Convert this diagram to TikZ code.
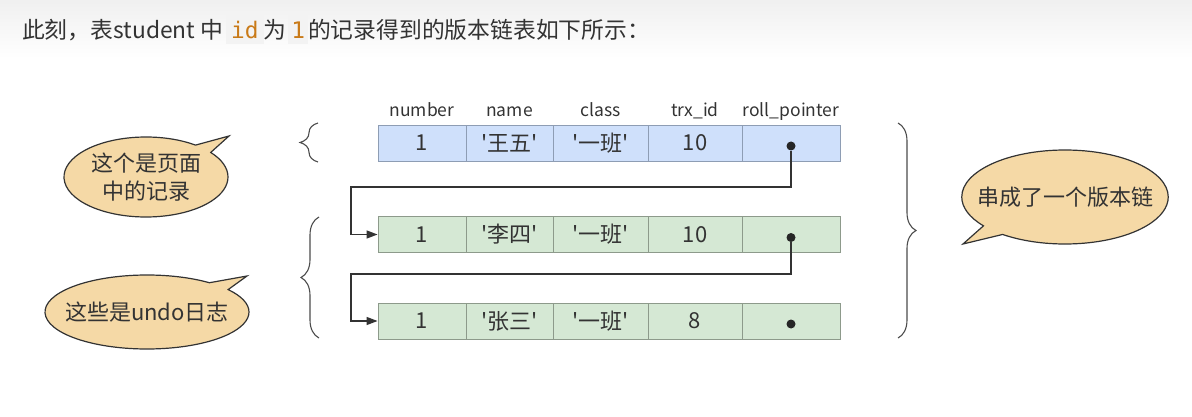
\documentclass[tikz,border=0pt]{standalone}
\usepackage{fontspec}
\usepackage{xcolor}
\usetikzlibrary{arrows.meta, positioning, shapes.callouts, decorations.pathreplacing}

\newfontfamily\cjk{Noto Sans CJK SC}
\newfontfamily\codefont{DejaVu Sans Mono}

\definecolor{txtgray}{HTML}{333333}
\definecolor{rowblue}{HTML}{CFE0FB}
\definecolor{bluebrd}{HTML}{8E9DB4}
\definecolor{rowgreen}{HTML}{D5E8D4}
\definecolor{greenbrd}{HTML}{8D9A8B}
\definecolor{notefill}{HTML}{F5D9A6}
\definecolor{codebg}{HTML}{F3F3F3}
\definecolor{codeorange}{HTML}{C97A18}

\newcommand{\inlinecode}[2]{{\setlength{\fboxsep}{0pt}\colorbox{codebg}{\rule[-5pt]{0pt}{33pt}\hspace{#1}{\codefont\color{codeorange}#2}\hspace{#1}}}}

\begin{document}
\begin{tikzpicture}[
        x=1pt, y=-1pt,
        every node/.style={font=\cjk, text=txtgray},
        cell/.style={rectangle, draw, line width=0.9pt, minimum height=36pt, inner sep=0pt, font=\cjk\fontsize{22}{26}\selectfont},
        hdr/.style={font=\cjk\fontsize{17.5}{20}\selectfont},
        note/.style={ellipse callout, draw=txtgray, line width=1.2pt, fill=notefill, align=center, inner sep=0pt, font=\cjk\fontsize{22}{28}\selectfont},
        dot/.style={circle, fill=black!85, inner sep=0pt, minimum size=9pt},
        link/.style={draw=black!80, line width=1.4pt, -{Triangle[length=11pt, width=8pt]}},
        curly/.style={decorate, decoration={brace, amplitude=18pt}, draw=black!70, line width=1.1pt}
    ]
        \useasboundingbox (0,0) rectangle (1192,417);
        \fill[top color=gray!12, bottom color=white, draw=none] (0,0) rectangle (1192,58);

        % title line
        \node[anchor=base west, inner sep=0pt, font=\cjk\fontsize{22.8}{27}\selectfont] (title) at (22,39)
            {此刻，表student 中\hspace{3pt}\inlinecode{5pt}{id}为\hspace{2pt}\inlinecode{3pt}{1}的记录得到的版本链表如下所示：};

        % the three versions of the record
        \foreach \r/\yc/\clr/\brd/\nm/\tx in {1/143/rowblue/bluebrd/'王五'/10, 2/234.5/rowgreen/greenbrd/'李四'/10, 3/321/rowgreen/greenbrd/'张三'/8} {
            \foreach \c/\xl/\xr/\val in {1/378/466/1, 2/466/553/\nm, 3/553/648/'一班', 4/648/742/\tx, 5/742/840/{}} {
                \node[cell, fill=\clr, draw=\brd, minimum width={(\xr-\xl)*1pt}] (r\r-\c) at ({(\xl+\xr)/2}, \yc) {\val};
            }
            \node[dot] (p\r) at (791, {\yc+3}) {};
        }

        \foreach \c/\h in {1/number, 2/name, 3/class, 4/trx\_id, 5/roll\_pointer}
            \node[hdr, above=8pt of r1-\c.north, anchor=base] (h\c) {\h};

        % roll pointers
        \coordinate (k1) at (351,187);
        \coordinate (k2) at (351,274);
        \draw[link] (p1) |- (k1) |- (r2-1.west);
        \draw[link] (p2) |- (k2) |- (r3-1.west);

        % braces
        \draw[curly] (318,162) -- (318,123);
        \draw[curly] (319,338) -- (319,217);
        \draw[curly] (898,123) -- (898,338);

        % notes
        \node[note, minimum width=164pt, minimum height=80pt, callout absolute pointer={(229,136)}] (n1) at (146,177) {这个是页面\\中的记录};
        \node[note, inner xsep=-19pt, minimum width=204pt, minimum height=74pt, callout absolute pointer={(247,276)}] (n2) at (147,312) {这些是undo日志};
        \node[note, inner xsep=-15pt, minimum width=206pt, minimum height=94pt, callout absolute pointer={(963,244)}] (n3) at (1065,197) {串成了一个版本链};
    \end{tikzpicture}
\end{document}
